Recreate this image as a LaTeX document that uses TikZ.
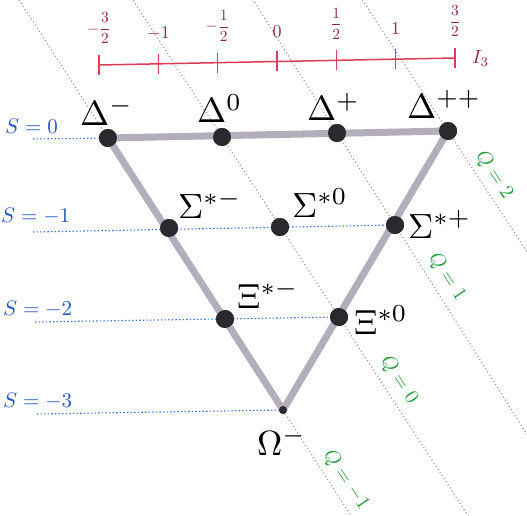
\documentclass[tikz,border=0pt]{standalone}
\usepackage{amsmath}
\usepackage{graphicx}
\usetikzlibrary{calc}
\definecolor{edgegray}{RGB}{180,174,188}
\definecolor{dotcol}{RGB}{42,42,46}
\definecolor{sblue}{RGB}{35,85,205}
\definecolor{slineblue}{RGB}{50,110,215}
\definecolor{qgray}{RGB}{150,150,150}
\definecolor{qgreen}{RGB}{40,160,60}
\definecolor{axred}{RGB}{220,60,85}
\definecolor{ticklab}{RGB}{150,35,75}
\newcommand{\plab}[1]{\scalebox{3.5}{$#1$}}
\newcommand{\slabtxt}[1]{\scalebox{2.1}{$#1$}}
\newcommand{\qlabtxt}[1]{\scalebox{2.0}{$#1$}}
\newcommand{\tint}[1]{\scalebox{1.8}{$#1$}}
\newcommand{\tfr}[2]{\scalebox{1.55}{$#1\dfrac{#2}{2}$}}
\begin{document}
\begin{tikzpicture}[x=1pt,y=-1pt,
  dot/.style={circle,fill=dotcol,inner sep=0pt,minimum size=18pt},
  smalldot/.style={circle,fill=dotcol,inner sep=0pt,minimum size=8pt},
  lbl/.style={inner sep=0pt,anchor=base west},
  slab/.style={inner sep=0pt,anchor=base west,text=sblue},
  qlab/.style={inner sep=0pt,text=qgreen,rotate=-56.8},
  ticklbl/.style={inner sep=0pt,anchor=south,text=ticklab},
  qline/.style={qgray,line width=1.1pt,dash pattern=on 1.1pt off 2.6pt},
  sline/.style={slineblue,line width=1.1pt,dash pattern=on 1.4pt off 2.2pt},
  edge/.style={edgegray,line width=7pt,line join=round,line cap=round},
  axis/.style={axred,line width=1.5pt}
]
\useasboundingbox (0,0) rectangle (527,516);
\fill[white] (0,0) rectangle (527,516);

% node positions (dots)
\node[dot] (Dm)  at (108,138) {};
\node[dot] (D0)  at (222,137) {};
\node[dot] (Dp)  at (337,133) {};
\node[dot] (Dpp) at (448,131) {};
\node[dot] (Sm)  at (169,228) {};
\node[dot] (S0)  at (280,227) {};
\node[dot] (Sp)  at (395,225) {};
\node[dot] (Xm)  at (225,319) {};
\node[dot] (X0)  at (339,317) {};
\node[smalldot] (Om) at (283,410) {};

% Q lines (dotted gray), clipped to the picture
\begin{scope}
\clip (0,0) rectangle (527,516);
\draw[qline] ($(Dm)!-1!(Om)$) -- ($(Dm)!2!(Om)$);
\draw[qline] ($(D0)!-1!(X0)$) -- ($(D0)!3!(X0)$);
\draw[qline] ($(Dp)!-2!(Sp)$) -- ($(Dp)!5!(Sp)$);
\draw[qline] ($(Dpp)+(-100,-153)$) -- ($(Dpp)+(200,306)$);
\end{scope}

% S lines (dotted blue)
\coordinate (s0) at (33,139);
\coordinate (s1) at (33,232);
\coordinate (s2) at (35,322);
\coordinate (s3) at (37,414);
\draw[sline] (s0) -- (Dm.center);
\draw[sline] (s1) -- (Sp.center);
\draw[sline] (s2) -- (X0.center);
\draw[sline] (s3) -- (Om.center);

% triangle
\draw[edge] (Dm.center) -- (Dpp.center) -- (Om.center) -- cycle;

% redraw dots on top
\node[dot] at (Dm) {};
\node[dot] at (D0) {};
\node[dot] at (Dp) {};
\node[dot] at (Dpp) {};
\node[dot] at (Sm) {};
\node[dot] at (S0) {};
\node[dot] at (Sp) {};
\node[dot] at (Xm) {};
\node[dot] at (X0) {};
\node[smalldot] at (Om) {};

% particle labels
\node[lbl] (lDm)  at (80,125)  {\plab{\Delta^{-}}};
\node[lbl] (lD0)  at (197,123) {\plab{\Delta^{0}}};
\node[lbl] (lDp)  at (307,121) {\plab{\Delta^{+}}};
\node[lbl] (lDpp) at (407,118) {\plab{\Delta^{++}}};
\node[lbl] (lSm)  at (178,218) {\plab{\Sigma^{*-}}};
\node[lbl] (lS0)  at (292,217) {\plab{\Sigma^{*0}}};
\node[lbl] (lSp)  at (408,238) {\plab{\Sigma^{*+}}};
\node[lbl] (lXm)  at (237,308) {\plab{\Xi^{*-}}};
\node[lbl] (lX0)  at (354,334) {\plab{\Xi^{*0}}};
\node[lbl] (lOm)  at (257,455) {\plab{\Omega^{-}}};

% S labels
\node[slab] (ls0) at (5,133)  {\slabtxt{S=0}};
\node[slab] (ls1) at (1,222)  {\slabtxt{S=-1}};
\node[slab] (ls2) at (3,315)  {\slabtxt{S=-2}};
\node[slab] (ls3) at (3,407)  {\slabtxt{S=-3}};

% Q labels
\node[qlab] (lq2) at (494,175) {\qlabtxt{Q=2}};
\node[qlab] (lq1) at (447,277) {\qlabtxt{Q=1}};
\node[qlab] (lq0) at (399,380) {\qlabtxt{Q=0}};
\node[qlab] (lqm) at (346,480) {\qlabtxt{Q=-1}};

% I3 axis
\coordinate (a0) at (99,65);
\coordinate (a6) at (455,58);
\draw[axis] (a0) -- (a6);
\foreach \i in {0,...,6}{
  \coordinate (t\i) at ($(a0)!\i/6!(a6)$);
  \draw[axis] ($(t\i)+(0,-10)$) -- ($(t\i)+(0,10)$);
}
\node[ticklbl] (tl0) at ($(t0)+(0,-21)$) {\tfr{-}{3}};
\node[ticklbl] (tl1) at ($(t1)+(0,-24)$) {\tint{-1}};
\node[ticklbl] (tl2) at ($(t2)+(0,-21)$) {\tfr{-}{1}};
\node[ticklbl] (tl3) at ($(t3)+(0,-24)$) {\tint{0}};
\node[ticklbl] (tl4) at ($(t4)+(0,-21)$) {\tfr{}{1}};
\node[ticklbl] (tl5) at ($(t5)+(0,-24)$) {\tint{1}};
\node[ticklbl] (tl6) at ($(t6)+(0,-21)$) {\tfr{}{3}};
\node[inner sep=0pt,anchor=base west,text=ticklab] (I3) at (472,64) {\scalebox{1.9}{$I_3$}};
\end{tikzpicture}
\end{document}
